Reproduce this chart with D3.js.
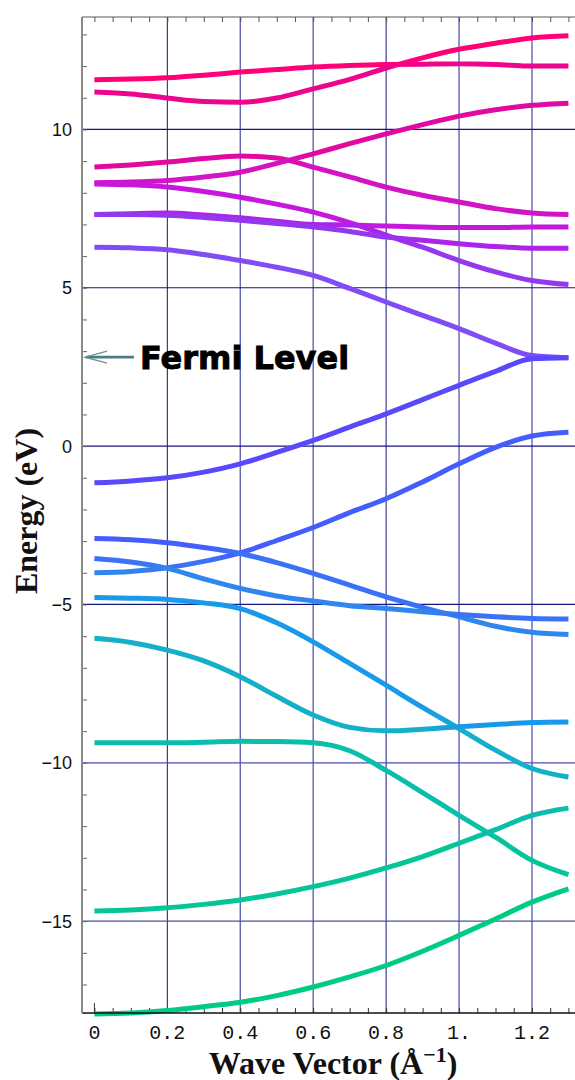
<!DOCTYPE html>
<html>
<head>
<meta charset="utf-8">
<script src="https://cdn.jsdelivr.net/npm/d3@7"></script>
<style>
  body { margin: 0; background: #fff; }
</style>
</head>
<body>
<div id="chart"></div>
<script>
const width = 575
const height = 1080

// wave vector samples (1/Angstrom)
const kValues = [0, 0.1, 0.2, 0.3, 0.4, 0.5, 0.6, 0.7, 0.8, 0.9, 1.0, 1.1, 1.2, 1.3];

// energy bands (eV), one value per kValues entry
const bandA = [11.57, 11.59, 11.63, 11.71, 11.81, 11.89, 11.97, 12.02, 12.05, 12.06, 12.07, 12.05, 12.0, 12.0];
const bandB = [11.18, 11.12, 10.99, 10.88, 10.86, 10.99, 11.28, 11.58, 11.94, 12.26, 12.53, 12.72, 12.89, 12.96];
const bandC = [8.81, 8.88, 8.97, 9.08, 9.16, 9.1, 8.81, 8.5, 8.18, 7.92, 7.71, 7.5, 7.36, 7.31];
const bandD = [8.32, 8.34, 8.39, 8.5, 8.65, 8.93, 9.23, 9.55, 9.86, 10.15, 10.42, 10.62, 10.76, 10.83];
const bandE = [8.28, 8.25, 8.18, 8.04, 7.86, 7.64, 7.39, 7.06, 6.66, 6.28, 5.86, 5.5, 5.23, 5.1];
const bandF = [7.31, 7.34, 7.36, 7.3, 7.21, 7.1, 7.0, 6.98, 6.95, 6.92, 6.9, 6.9, 6.92, 6.92];
const bandG = [7.31, 7.31, 7.29, 7.22, 7.13, 7.03, 6.92, 6.78, 6.6, 6.5, 6.39, 6.3, 6.25, 6.25];
const bandH = [6.28, 6.26, 6.2, 6.05, 5.86, 5.65, 5.39, 4.98, 4.55, 4.13, 3.71, 3.25, 2.86, 2.79];
const bandI = [-1.16, -1.1, -1.0, -0.82, -0.56, -0.2, 0.18, 0.6, 1.02, 1.47, 1.92, 2.36, 2.76, 2.79];
const bandJ = [-4.0, -3.96, -3.84, -3.64, -3.37, -2.98, -2.57, -2.1, -1.66, -1.13, -0.56, -0.04, 0.32, 0.44];
const bandK = [-2.92, -2.96, -3.05, -3.2, -3.39, -3.68, -4.02, -4.39, -4.76, -5.09, -5.39, -5.69, -5.88, -5.95];
const bandL = [-3.55, -3.66, -3.86, -4.19, -4.49, -4.73, -4.89, -5.04, -5.13, -5.23, -5.32, -5.39, -5.44, -5.46];
const bandM = [-4.78, -4.8, -4.84, -4.95, -5.13, -5.58, -6.18, -6.86, -7.55, -8.25, -8.92, -9.6, -10.18, -10.45];
const bandN = [-6.07, -6.2, -6.44, -6.78, -7.28, -7.9, -8.49, -8.88, -8.99, -8.94, -8.86, -8.79, -8.73, -8.71];
const bandO = [-9.37, -9.37, -9.37, -9.35, -9.32, -9.33, -9.37, -9.62, -10.24, -10.94, -11.66, -12.35, -13.08, -13.53];
const bandP = [-14.68, -14.65, -14.58, -14.47, -14.33, -14.14, -13.91, -13.64, -13.32, -12.96, -12.54, -12.11, -11.66, -11.43];
const bandQ = [-17.93, -17.9, -17.82, -17.7, -17.56, -17.35, -17.08, -16.76, -16.4, -15.95, -15.45, -14.93, -14.4, -13.98];

const bands = [bandA, bandB, bandC, bandD, bandE, bandF, bandG, bandH, bandI,
               bandJ, bandK, bandL, bandM, bandN, bandO, bandP, bandQ];

const xTickValues = [0, 0.2, 0.4, 0.6, 0.8, 1.0, 1.2];
const xTickLabels = ['0', '0.2', '0.4', '0.6', '0.8', '1.', '1.2'];
const yTickValues = [-15, -10, -5, 0, 5, 10];
const yTickLabels = ['\u221215', '\u221210', '\u22125', '0', '5', '10'];
const fermiLevel = 2.81;

const svg = d3.select('#chart').append('svg').attr('width', width).attr('height', height);

const x = d3.scaleLinear().domain([-0.034, 1.318]).range([82, 575]);
const y = d3.scaleLinear().domain([-17.9, 13.55]).range([1013, 17]);

const plotLeft = x.range()[0], plotRight = x.range()[1];
const plotTop = y.range()[1], plotBottom = y.range()[0];

// grid lines
const darkGrid = [0.2, 0.8];
svg.append('g')
  .selectAll('line')
  .data(xTickValues.filter(d => d > 0))
  .enter().append('line')
  .attr('x1', d => x(d)).attr('x2', d => x(d))
  .attr('y1', plotTop).attr('y2', plotBottom)
  .attr('stroke', d => darkGrid.includes(d) ? '#14147a' : '#5656b4')
  .attr('stroke-width', d => darkGrid.includes(d) ? 1 : 1.3);

svg.append('g')
  .selectAll('line')
  .data(yTickValues)
  .enter().append('line')
  .attr('x1', plotLeft).attr('x2', plotRight)
  .attr('y1', d => y(d)).attr('y2', d => y(d))
  .attr('stroke', d => d < -7 ? '#4c4cb0' : '#16167e')
  .attr('stroke-width', 1.2);

// minor ticks, bottom / top
const xMinor = d3.ticks(0, 1.3, 26);
svg.append('g')
  .call(d3.axisTop(x).tickValues(xMinor).tickSize(5).tickFormat(''))
  .attr('transform', 'translate(0,' + plotBottom + ')')
  .call(g => g.select('.domain').remove())
  .selectAll('line').attr('stroke', '#333');
svg.append('g')
  .call(d3.axisBottom(x).tickValues(xMinor).tickSize(5).tickFormat(''))
  .attr('transform', 'translate(0,' + plotTop + ')')
  .call(g => g.select('.domain').remove())
  .selectAll('line').attr('stroke', '#555');
// taller tick at k = 0
svg.append('line')
  .attr('x1', x(0)).attr('x2', x(0))
  .attr('y1', plotBottom).attr('y2', plotBottom - 10)
  .attr('stroke', '#333');

// minor ticks, left
svg.append('g')
  .call(d3.axisRight(y).tickValues(d3.range(-17, 14)).tickSize(5).tickFormat(''))
  .attr('transform', 'translate(' + plotLeft + ',0)')
  .call(g => g.select('.domain').remove())
  .selectAll('line').attr('stroke', '#666');

// bands, coloured by their energy order at each k (like sorted eigenvalues)
function rankAt(bi, j) {
  const v = bands[bi][j];
  return bands.filter((b, i) => b[j] < v || (b[j] === v && i > bi)).length;
}
const hueOf = d3.scaleLinear()
  .domain([0, 2, 4, 7, 9, 11, 13, 14, 16])
  .range([158, 174, 203, 232, 258, 282, 304, 318, 332]);
const lightOf = d3.scaleLinear()
  .domain([158, 175, 191, 215, 235, 258, 276, 300, 320, 332])
  .range([0.40, 0.39, 0.44, 0.57, 0.64, 0.63, 0.55, 0.45, 0.46, 0.5]);
const satOf = d3.scaleLinear()
  .domain([158, 191, 215, 235, 276, 300, 332])
  .range([1, 0.8, 0.85, 1, 0.82, 0.8, 1]);
function rankColor(r) {
  const h = hueOf(r);
  return d3.hsl(h, satOf(h), lightOf(h)).formatHex();
}

const defs = svg.append('defs');
bands.forEach((b, bi) => {
  const grad = defs.append('linearGradient')
    .attr('id', 'band' + bi)
    .attr('gradientUnits', 'userSpaceOnUse')
    .attr('x1', x(kValues[0])).attr('x2', x(kValues[kValues.length - 1]))
    .attr('y1', 0).attr('y2', 0);
  kValues.forEach((k, j) => {
    grad.append('stop')
      .attr('offset', j / (kValues.length - 1))
      .attr('stop-color', rankColor(rankAt(bi, j)));
  });
});

const line = d3.line()
  .x((d, j) => x(kValues[j]))
  .y(d => y(d))
  .curve(d3.curveMonotoneX);

svg.append('g')
  .selectAll('path')
  .data(bands)
  .enter().append('path')
  .attr('d', line)
  .attr('fill', 'none')
  .attr('stroke', (d, i) => 'url(#band' + i + ')')
  .attr('stroke-width', 5);

// frame
svg.append('line').attr('x1', plotLeft).attr('x2', plotRight).attr('y1', plotTop).attr('y2', plotTop)
  .attr('stroke', '#555').attr('stroke-width', 1);
svg.append('line').attr('x1', plotLeft).attr('x2', plotRight).attr('y1', plotBottom).attr('y2', plotBottom)
  .attr('stroke', '#111').attr('stroke-width', 1.6);
svg.append('line').attr('x1', plotLeft).attr('x2', plotLeft).attr('y1', plotTop).attr('y2', plotBottom)
  .attr('stroke', '#8a8a8a').attr('stroke-width', 2);

// tick labels
svg.append('g')
  .selectAll('text')
  .data(xTickValues)
  .enter().append('text')
  .attr('x', d => x(d))
  .attr('y', 1039)
  .attr('text-anchor', 'middle')
  .style('font-family', '"Liberation Mono", monospace')
  .style('font-size', '20px')
  .attr('fill', '#111')
  .text((d, i) => xTickLabels[i]);

svg.append('g')
  .selectAll('text')
  .data(yTickValues)
  .enter().append('text')
  .attr('x', 72)
  .attr('y', d => y(d) + 6.5)
  .attr('text-anchor', 'end')
  .style('font-family', '"Liberation Sans", sans-serif')
  .style('font-size', '18px')
  .attr('fill', '#111')
  .text((d, i) => yTickLabels[i]);

// axis titles
const xTitle = svg.append('text')
  .attr('x', 333)
  .attr('y', 1074)
  .attr('text-anchor', 'middle')
  .style('font-family', '"Liberation Serif", serif')
  .style('font-weight', 'bold')
  .style('font-size', '32px')
  .attr('fill', '#111');
xTitle.append('tspan').text('Wave Vector (\u00C5');
xTitle.append('tspan').attr('dy', -12).style('font-size', '22px').text('\u22121');
xTitle.append('tspan').attr('dy', 12).text(')');

svg.append('text')
  .attr('transform', 'translate(37,511) rotate(-90)')
  .attr('text-anchor', 'middle')
  .style('font-family', '"Liberation Serif", serif')
  .style('font-weight', 'bold')
  .style('font-size', '32px')
  .attr('fill', '#111')
  .text('Energy (eV)');

// Fermi level note
const fy = y(fermiLevel);
svg.append('line')
  .attr('x1', 134).attr('x2', plotLeft + 4)
  .attr('y1', fy).attr('y2', fy)
  .attr('stroke', '#4b7c80').attr('stroke-width', 2.6);
svg.append('path')
  .attr('d', 'M107,' + (fy - 6) + ' L' + (plotLeft + 3) + ',' + fy + ' L107,' + (fy + 6))
  .attr('fill', 'none')
  .attr('stroke', '#6a9296').attr('stroke-width', 1.3);
svg.append('text')
  .attr('x', 140)
  .attr('y', 369)
  .style('font-family', '"DejaVu Sans", sans-serif')
  .style('font-weight', 'bold')
  .style('font-size', '32px')
  .attr('fill', '#000')
  .attr('stroke', '#000')
  .attr('stroke-width', 0.9)
  .text('Fermi Level');
</script>
</body>
</html>
